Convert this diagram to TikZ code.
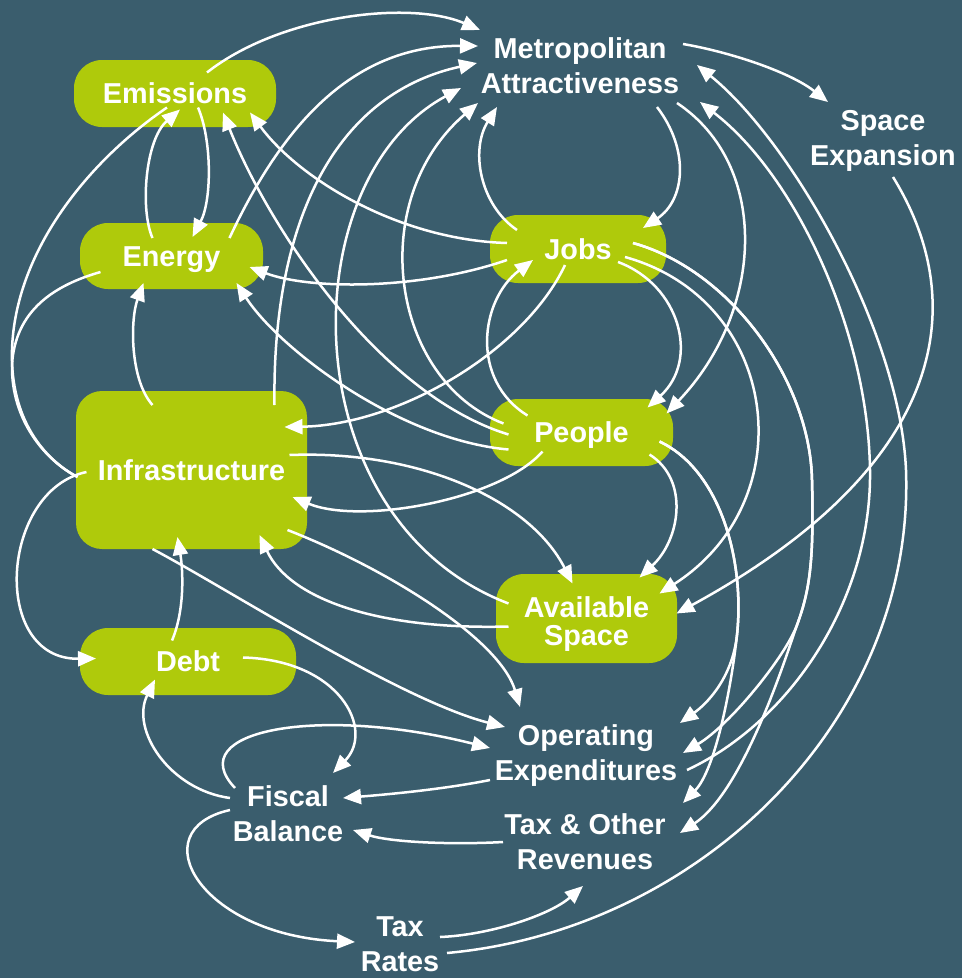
\documentclass[tikz,border=0pt]{standalone}
\usepackage{fontspec}
\setmainfont{Liberation Sans}
\usetikzlibrary{arrows.meta}
\definecolor{bgcol}{RGB}{58,93,109}
\definecolor{limecol}{RGB}{175,202,11}
\newcommand\lblfont{\fontsize{28.8}{35}\selectfont\bfseries}
\begin{document}
\begin{tikzpicture}[x=1pt,y=-1pt,
  boxbase/.style={fill=limecol, rounded corners=28pt, inner sep=0pt, text=white, font=\lblfont, align=center},
  box/.style={boxbase, text height=20.6pt, text depth=0pt},
  lbl/.style={text=white, font=\lblfont, align=center, inner sep=0pt},
  arr/.style={draw=white, line width=2.5pt, -{Triangle[length=18pt,width=15pt]}},
  ln/.style={draw=white, line width=2.5pt},
]
\useasboundingbox (0,0) rectangle (962,978);
\fill[bgcol] (0,0) rectangle (962,978);

\node[box, minimum width=202pt, minimum height=67pt] (emis) at (175,93.5) {Emissions};
\node[box, minimum width=183pt, minimum height=66pt] (ener) at (171.5,256) {Energy};
\node[box, minimum width=231pt, minimum height=158pt, rounded corners=26pt] (infra) at (191.5,470) {Infrastructure};
\node[box, minimum width=216pt, minimum height=67pt] (debt) at (188,661.5) {Debt};
\node[box, minimum width=176pt, minimum height=68pt] (jobs) at (578,249) {Jobs};
\node[box, minimum width=183pt, minimum height=67pt] (people) at (581.5,432.5) {People};
\node[boxbase, minimum width=181pt, minimum height=89pt] (avsp) at (586.5,618.5) {\rule{0pt}{31.7pt}Available\\[-6.5pt]Space};

\node[lbl] (ma) at (580,66) {Metropolitan\\Attractiveness};
\node[lbl] (spx) at (883,141) {Space\\Expansion};
\node[lbl] (opex) at (586,756) {Operating\\Expenditures};
\node[lbl] (tax) at (585,842) {Tax \& Other\\Revenues};
\node[lbl] (fisc) at (288,814) {Fiscal\\Balance};
\node[lbl] (rates) at (400,944) {Tax\\Rates};

% into Metropolitan Attractiveness
\draw[arr] ([shift={(32,-21)}]emis.center) .. controls (280,15) and (410,0) .. ([shift={(-100,-36)}]ma.center);
\draw[arr] ([shift={(58,-18)}]ener.center) .. controls (280,130) and (350,45) .. ([shift={(-102,-20)}]ma.center);
\draw[arr] ([shift={(83,-65)}]infra.center) .. controls (272,230) and (330,95) .. ([shift={(-103,-3)}]ma.center);
\draw[arr] ([shift={(-78,-15)}]avsp.center) .. controls (290,520) and (290,180) .. ([shift={(-119,22)}]ma.center);
\draw[arr] ([shift={(-78,-9)}]people.center) .. controls (390,380) and (365,200) .. ([shift={(-102,37)}]ma.center);
\draw[arr] ([shift={(-61,-19)}]jobs.center) .. controls (480,205) and (470,150) .. ([shift={(-83,41)}]ma.center);
\draw[arr] ([shift={(47,9)}]rates.center) .. controls (700,930) and (915,720) .. (906,470) .. controls (900,330) and (790,140) .. ([shift={(117,-1)}]ma.center);
\draw[arr] ([shift={(101,14)}]opex.center) .. controls (790,722) and (872,600) .. (870,470) .. controls (868,330) and (795,175) .. ([shift={(120,36)}]ma.center);
% out of Metropolitan Attractiveness
\draw[arr] ([shift={(77,41)}]ma.center) .. controls (690,150) and (685,200) .. ([shift={(65,-21)}]jobs.center);
\draw[arr] ([shift={(103,-22)}]ma.center) .. controls (730,52) and (790,72) .. ([shift={(-55,-39)}]spx.center);
\draw[arr] ([shift={(97,37)}]ma.center) .. controls (770,165) and (765,310) .. ([shift={(85,-19)}]people.center);
% space expansion
\draw[arr] ([shift={(10,36)}]spx.center) .. controls (975,310) and (940,470) .. ([shift={(90,-5)}]avsp.center);
% jobs
\draw[arr] ([shift={(40,13)}]jobs.center) .. controls (680,285) and (700,360) .. ([shift={(66,-25)}]people.center);
\draw[arr] ([shift={(47,8)}]jobs.center) .. controls (780,300) and (805,500) .. ([shift={(73,-25)}]avsp.center);
\draw[arr] ([shift={(55,-6)}]jobs.center) .. controls (730,270) and (810,380) .. (812,480) .. controls (814,560) and (810,590) .. (797,625) .. controls (785,657) and (730,725) .. ([shift={(97,-3)}]opex.center);
\draw[arr] ([shift={(55,-6)}]jobs.center) .. controls (730,270) and (810,380) .. (812,480) .. controls (814,560) and (810,590) .. (797,625) .. controls (788,650) and (745,790) .. ([shift={(95,-9)}]tax.center);
\draw[arr] ([shift={(-71,-6)}]jobs.center) .. controls (400,240) and (300,180) .. ([shift={(75,19)}]emis.center);
\draw[arr] ([shift={(-71,11)}]jobs.center) .. controls (420,290) and (310,290) .. ([shift={(78,11)}]ener.center);
\draw[arr] ([shift={(-13,16)}]jobs.center) .. controls (525,350) and (400,425) .. ([shift={(93,-43)}]infra.center);
% people
\draw[arr] ([shift={(78,9)}]people.center) .. controls (720,470) and (745,560) .. (737,635) .. controls (732,680) and (705,705) .. ([shift={(94,-33)}]opex.center);
\draw[arr] ([shift={(78,9)}]people.center) .. controls (720,470) and (745,560) .. (737,635) .. controls (731,690) and (715,770) .. ([shift={(98,-39)}]tax.center);
\draw[arr] ([shift={(68,22)}]people.center) .. controls (690,480) and (680,540) .. ([shift={(53,-41)}]avsp.center);
\draw[arr] ([shift={(-54,-17)}]people.center) .. controls (470,380) and (480,300) .. ([shift={(-45,11)}]jobs.center);
\draw[arr] ([shift={(-73,2)}]people.center) .. controls (380,395) and (270,230) .. ([shift={(48,19)}]emis.center);
\draw[arr] ([shift={(-73,17)}]people.center) .. controls (400,440) and (280,350) .. ([shift={(65,27)}]ener.center);
\draw[arr] ([shift={(-39,19)}]people.center) .. controls (500,500) and (360,525) .. ([shift={(101,27)}]infra.center);
% infrastructure
\draw[arr] ([shift={(98,-15)}]infra.center) .. controls (420,450) and (530,500) .. ([shift={(-14,-35)}]avsp.center);
\draw[arr] ([shift={(-78,8)}]avsp.center) .. controls (380,630) and (290,600) .. ([shift={(68,65)}]infra.center);
\draw[arr] ([shift={(96,60)}]infra.center) .. controls (390,570) and (500,640) .. ([shift={(-66,-49)}]opex.center);
\draw[arr] ([shift={(-39,79)}]infra.center) .. controls (230,590) and (400,700) .. ([shift={(-81,-29)}]opex.center);
\draw[arr] ([shift={(-39,-65)}]infra.center) .. controls (130,380) and (130,320) .. ([shift={(-28,27)}]ener.center);
\draw[arr] ([shift={(-105,2)}]infra.center) .. controls (0,490) and (-10,660) .. ([shift={(-92,-3)}]debt.center);
\draw[arr] ([shift={(-16,-21)}]debt.center) .. controls (185,610) and (183,570) .. ([shift={(-14,67)}]infra.center);
% emissions / energy
\draw[arr] ([shift={(23,14)}]emis.center) .. controls (212,140) and (212,200) .. ([shift={(21,-19)}]ener.center);
\draw[arr] ([shift={(-19,-18)}]ener.center) .. controls (140,210) and (145,140) .. ([shift={(5,16)}]emis.center);
\draw[ln] ([shift={(-8,14)}]emis.center) .. controls (90,160) and (15,250) .. (12,350) .. controls (10,420) and (45,460) .. ([shift={(-114,7)}]infra.center);
\draw[ln] ([shift={(-71,16)}]ener.center) .. controls (55,285) and (15,310) .. (12,365) .. controls (11,420) and (45,460) .. ([shift={(-114,7)}]infra.center);
% fiscal
\draw[arr] ([shift={(55,-4)}]debt.center) .. controls (340,660) and (375,730) .. ([shift={(45,-41)}]fisc.center);
\draw[arr] ([shift={(-58,-16)}]fisc.center) .. controls (170,790) and (130,730) .. ([shift={(-33,18)}]debt.center);
\draw[arr] ([shift={(-53,-26)}]fisc.center) .. controls (180,730) and (320,705) .. ([shift={(-96,-8)}]opex.center);
\draw[arr] ([shift={(-96,24)}]opex.center) .. controls (440,790) and (380,795) .. ([shift={(55,-16)}]fisc.center);
\draw[arr] ([shift={(-82,0)}]tax.center) .. controls (450,845) and (390,842) .. ([shift={(65,16)}]fisc.center);
\draw[arr] ([shift={(-58,-4)}]fisc.center) .. controls (140,830) and (200,935) .. ([shift={(-45,-2)}]rates.center);
\draw[arr] ([shift={(40,-7)}]rates.center) .. controls (490,935) and (550,915) .. ([shift={(-2,44)}]tax.center);
\end{tikzpicture}
\end{document}
